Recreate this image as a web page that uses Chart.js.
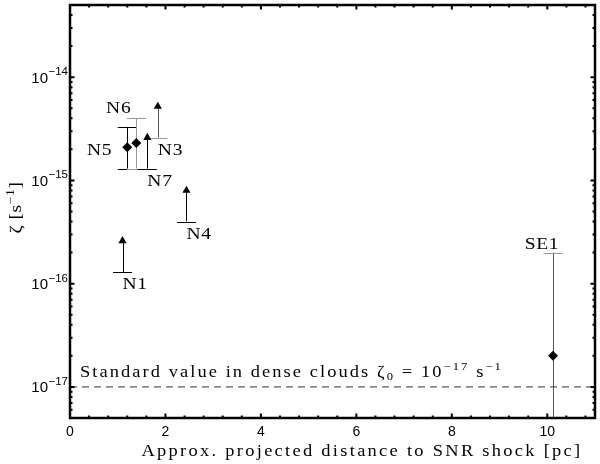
<!DOCTYPE html>
<html>
<head>
<meta charset="utf-8">
<script src="https://cdn.jsdelivr.net/npm/chart.js@4.4.1/dist/chart.umd.min.js"></script>
<style>
  html, body { margin: 0; padding: 0; background: #fff; }
</style>
</head>
<body>
<canvas id="chart" width="600" height="464"></canvas>
<script>
// Sources with a measured ionization rate and error bar (diamonds)
const detNames = ["N5", "N6", "SE1"];
const detDist = [1.20, 1.39, 10.12];
const detZeta = [2.1e-15, 2.3e-15, 2.0e-17];
const detLow = [1.3e-15, 1.3e-15, 1e-18];
const detHigh = [3.3e-15, 4.0e-15, 2.0e-16];

// Sources with a lower limit only (arrows)
const limNames = ["N1", "N7", "N3", "N4"];
const limDist = [1.10, 1.62, 1.84, 2.44];
const limZeta = [1.3e-16, 1.3e-15, 2.6e-15, 4.0e-16];

// Standard value in dense clouds
const zetaStandard = 1e-17;

// Axis ticks
const xTickValues = [0, 2, 4, 6, 8, 10];
const yTickValues = [1e-17, 1e-16, 1e-15, 1e-14];
const yTickExps = ["\u221217", "\u221216", "\u221215", "\u221214"];

const X_MIN = 0, X_MAX = 11;
const Y_MIN = 5e-18, Y_MAX = 5e-14;

// Styling
const ARROW_FACTOR = 2;   // arrow head drawn a factor 2 above the limit
const CAP = 9.5;
const detBarColor = ["#000", "#999", "#555"];
const detCapColor = ["#000", "#999", "#999"];
const limBarColor = ["#000", "#000", "#555", "#000"];
const limCapColor = ["#000", "#000", "#999", "#000"];
const SERIF = '"Liberation Serif", "DejaVu Serif", serif';
const SANS = '"Liberation Sans", Arial, sans-serif';
const STRETCH = 1.15;     // the TeX font is wider than Times

// where each source name goes: ref = which mark it hangs off
const labelPlace = {
    N1: { ref: "low", dx: 0, dy: 17, align: "left" },
    N7: { ref: "low", dx: 0, dy: 17, align: "left" },
    N3: { ref: "low", dx: 0, dy: 17, align: "left" },
    N4: { ref: "low", dx: 0, dy: 17, align: "left" },
    N5: { ref: "mid", dx: -15, dy: 8, align: "right" },
    N6: { ref: "high", dx: -5, dy: -5, align: "right" },
    SE1: { ref: "high", dx: -11, dy: -4, align: "center" }
};

function vline(ctx, px, y1, y2, color) {
    const xx = Math.round(px) + 0.5;
    ctx.strokeStyle = color;
    ctx.beginPath();
    ctx.moveTo(xx, y1);
    ctx.lineTo(xx, y2);
    ctx.stroke();
}

function hline(ctx, px, py, color) {
    const yy = Math.round(py) + 0.5;
    ctx.strokeStyle = color;
    ctx.beginPath();
    ctx.moveTo(px - CAP, yy);
    ctx.lineTo(px + CAP, yy);
    ctx.stroke();
}

// draw text runs [text, size, rise], stretched sideways;
// if width is given the letter spacing is picked so the line is that wide
function drawRuns(ctx, runs, x, y, align, width) {
    let chars = 0, natural = 0;
    ctx.letterSpacing = "0px";
    runs.forEach(([t, size]) => {
        ctx.font = size + "px " + SERIF;
        natural += ctx.measureText(t).width;
        chars += t.length;
    });
    const sp = width ? Math.max(0, (width / STRETCH - natural) / chars) : 0.6;
    ctx.letterSpacing = sp + "px";
    const widths = runs.map(([t, size]) => {
        ctx.font = size + "px " + SERIF;
        return ctx.measureText(t).width;
    });
    const total = widths.reduce((s, w) => s + w, 0) * STRETCH;
    const x0 = align === "center" ? x - total / 2 : align === "right" ? x - total : x;
    ctx.save();
    ctx.translate(x0, y);
    ctx.scale(STRETCH, 1);
    ctx.textAlign = "left";
    ctx.textBaseline = "alphabetic";
    let cx = 0;
    runs.forEach(([t, size, rise], i) => {
        ctx.font = size + "px " + SERIF;
        ctx.fillText(t, cx, -rise);
        cx += widths[i];
    });
    ctx.restore();
    ctx.letterSpacing = "0px";
}

const matlabAxes = {
    id: "matlabAxes",
    beforeDatasetsDraw(chart) {
        const { ctx, chartArea: a, scales: { x, y } } = chart;
        ctx.save();
        ctx.beginPath();
        ctx.rect(a.left, a.top, a.right - a.left, a.bottom - a.top);
        ctx.clip();
        ctx.lineWidth = 1;

        detDist.forEach((d, i) => {
            const px = x.getPixelForValue(d);
            const lo = y.getPixelForValue(detLow[i]);
            const hi = y.getPixelForValue(detHigh[i]);
            vline(ctx, px, lo, hi, detBarColor[i]);
            hline(ctx, px, hi, detCapColor[i]);
            hline(ctx, px, lo, detCapColor[i]);
        });

        limDist.forEach((d, i) => {
            const px = x.getPixelForValue(d);
            const lo = y.getPixelForValue(limZeta[i]);
            const tip = y.getPixelForValue(limZeta[i] * ARROW_FACTOR);
            vline(ctx, px, lo, tip, limBarColor[i]);
            hline(ctx, px, lo, limCapColor[i]);
        });
        ctx.restore();
    },
    afterDraw(chart) {
        const { ctx, chartArea: a, scales: { x, y } } = chart;
        ctx.save();

        // tick marks on all four sides, pointing inwards
        ctx.strokeStyle = "#000";
        ctx.lineWidth = 2;
        ctx.beginPath();
        const xTick = (v, len) => {
            const px = x.getPixelForValue(v);
            ctx.moveTo(px, a.bottom);
            ctx.lineTo(px, a.bottom - len);
            ctx.moveTo(px, a.top);
            ctx.lineTo(px, a.top + len);
        };
        const yTick = (v, len) => {
            const py = y.getPixelForValue(v);
            ctx.moveTo(a.left, py);
            ctx.lineTo(a.left + len, py);
            ctx.moveTo(a.right, py);
            ctx.lineTo(a.right - len, py);
        };
        for (let i = 0; i * 0.4 <= X_MAX; i++) {
            xTick(i * 0.4, i % 5 === 0 ? 4.5 : 2.5);
        }
        for (let e = -18; e <= -14; e++) {
            for (let m = 1; m <= 9; m++) {
                const v = m * Math.pow(10, e);
                if (v < Y_MIN * 0.999 || v > Y_MAX * 1.001) continue;
                yTick(v, m === 1 ? 4.5 : 2.5);
            }
        }
        ctx.stroke();

        // axes box
        ctx.lineWidth = 2.5;
        ctx.strokeRect(a.left, a.top, a.right - a.left, a.bottom - a.top);

        // y tick labels 10^n
        ctx.fillStyle = "#000";
        ctx.textBaseline = "alphabetic";
        ctx.textAlign = "right";
        yTickValues.forEach((v, i) => {
            const py = y.getPixelForValue(v);
            const right = a.left - 2;
            ctx.font = "11.5px " + SANS;
            ctx.fillText(yTickExps[i], right, py - 2);
            const w = ctx.measureText(yTickExps[i]).width;
            ctx.font = "15px " + SANS;
            ctx.fillText("10", right - w - 0.5, py + 5.5);
        });

        // source names
        const place = (name, px, pyLow, pyMid, pyHigh) => {
            const p = labelPlace[name];
            const ref = p.ref === "low" ? pyLow : p.ref === "high" ? pyHigh : pyMid;
            drawRuns(ctx, [[name, 17, 0]], px + p.dx, ref + p.dy, p.align, 0);
        };
        detNames.forEach((n, i) => {
            place(n, x.getPixelForValue(detDist[i]),
                y.getPixelForValue(detLow[i]),
                y.getPixelForValue(detZeta[i]),
                y.getPixelForValue(detHigh[i]));
        });
        limNames.forEach((n, i) => {
            place(n, x.getPixelForValue(limDist[i]),
                y.getPixelForValue(limZeta[i]),
                y.getPixelForValue(limZeta[i] * ARROW_FACTOR),
                y.getPixelForValue(limZeta[i] * ARROW_FACTOR));
        });

        // standard value annotation above the dashed line
        const ys = y.getPixelForValue(zetaStandard);
        drawRuns(ctx, [
            ["Standard value in dense clouds \u03b6", 16, 0],
            ["0", 11, -3],
            [" = 10", 16, 0],
            ["\u221217", 11, 7],
            [" s", 16, 0],
            ["\u22121", 11, 7]
        ], a.left + 10, ys - 10, "left", 423);

        // x axis title
        drawRuns(ctx, [["Approx. projected distance to SNR shock [pc]", 16, 0]],
            a.left + 292, a.bottom + 38, "center", 441);

        // y axis title, rotated
        ctx.translate(16, (a.top + a.bottom) / 2 - 4);
        ctx.rotate(-Math.PI / 2);
        drawRuns(ctx, [["\u03b6 [s", 17, 0], ["\u22121", 12, 7], ["]", 17, 0]], 0, 5, "center", 52);

        ctx.restore();
    }
};

new Chart(document.getElementById("chart"), {
    type: "scatter",
    data: {
        datasets: [
            {
                label: "Standard value",
                data: [{ x: X_MIN, y: zetaStandard }, { x: X_MAX, y: zetaStandard }],
                showLine: true,
                borderColor: "#333",
                borderWidth: 1,
                borderDash: [7, 5],
                pointRadius: 0
            },
            {
                label: "Detections",
                data: detDist.map((d, i) => ({ x: d, y: detZeta[i] })),
                pointStyle: "rectRot",
                pointRadius: 5,
                backgroundColor: "#000",
                borderColor: "#000",
                borderWidth: 0
            },
            {
                label: "Lower limits",
                data: limDist.map((d, i) => ({ x: d, y: limZeta[i] * ARROW_FACTOR })),
                pointStyle: "triangle",
                pointRadius: 4.7,
                backgroundColor: "#000",
                borderColor: "#000",
                borderWidth: 0
            }
        ]
    },
    options: {
        responsive: false,
        animation: false,
        events: [],
        layout: { padding: { top: 3.5, right: 2.5 } },
        plugins: {
            legend: { display: false },
            tooltip: { enabled: false }
        },
        scales: {
            x: {
                type: "linear",
                min: X_MIN,
                max: X_MAX,
                grid: { display: false, drawTicks: false },
                border: { display: false },
                ticks: {
                    color: "#000",
                    font: { family: SANS, size: 14 },
                    padding: 6
                },
                afterBuildTicks: (s) => { s.ticks = xTickValues.map(v => ({ value: v })); },
                afterFit: (s) => { s.height = 46; }
            },
            y: {
                type: "logarithmic",
                min: Y_MIN,
                max: Y_MAX,
                grid: { display: false, drawTicks: false },
                border: { display: false },
                ticks: { display: false },
                afterFit: (s) => { s.width = 70; }
            }
        }
    },
    plugins: [matlabAxes]
});
</script>
</body>
</html>
